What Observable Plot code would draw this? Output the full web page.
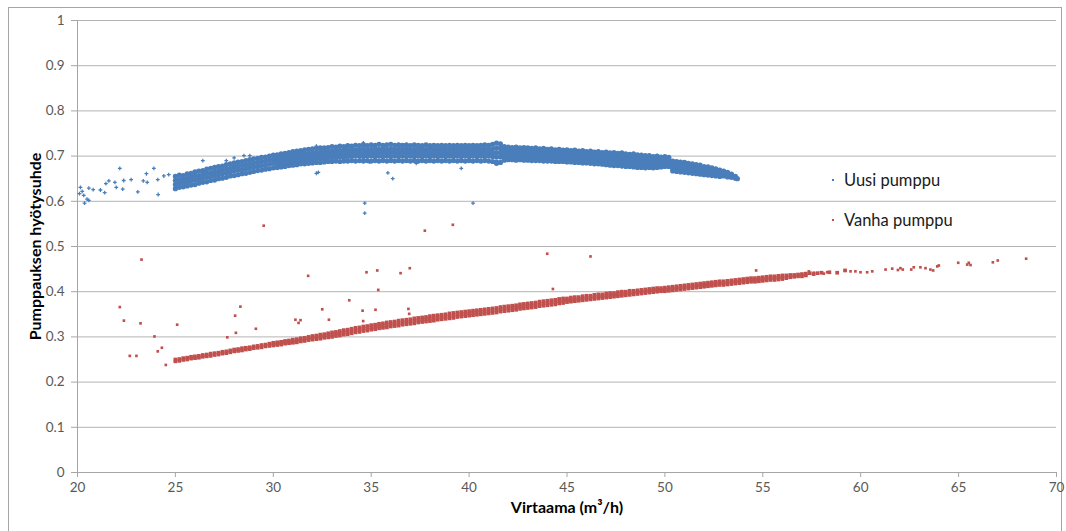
<!DOCTYPE html>
<html>
<head>
<meta charset="utf-8">
<script src="https://cdn.jsdelivr.net/npm/d3@7"></script>
<script src="https://cdn.jsdelivr.net/npm/@observablehq/plot@0.6"></script>
<style>
  html, body { margin: 0; padding: 0; background: #fff; }
  #chart { position: relative; width: 1066px; height: 531px; overflow: hidden; font-family: Lato, "Open Sans", sans-serif; }
  #frame { position: absolute; left: 8px; top: 7px; width: 1054px; height: 540px; border: 1px solid #a6a6a6; box-sizing: border-box; pointer-events: none; }
  #chart svg { position: absolute; left: 0; top: 0; }
  .legend { position: absolute; left: 830px; top: 169px; font-size: 16.5px; color: #1a1a1a; }
  .legend .row { position: relative; height: 40px; line-height: 22px; }
  .legend .mk { position: absolute; left: 2px; top: 10px; width: 2px; height: 2px; }
  .legend .lb { position: absolute; left: 14px; top: 0; white-space: nowrap; }
</style>
</head>
<body>
<div id="chart"><div id="frame"></div></div>
<script>
// Axis ticks
const xTicks = [20, 25, 30, 35, 40, 45, 50, 55, 60, 65, 70];
const yTicks = [0, 0.1, 0.2, 0.3, 0.4, 0.5, 0.6, 0.7, 0.8, 0.9, 1];

const seriesNames = ["Uusi pumppu", "Vanha pumppu"];
const seriesColors = ["#4a7ebb", "#c0504d"];

// Uusi pumppu: dense band, each row = [flow, efficiency readings at that flow...]
const uusiBand = [
  [25.0,.655,.646,.637,.628],[25.2,.658,.648,.640,.631],[25.4,.657,.650,.641,.632],[25.6,.661,.651,.643,.634],
  [25.8,.662,.654,.645,.636],[26.0,.665,.656,.647,.637],[26.2,.667,.657,.649,.640],[26.4,.668,.660,.651,.642],
  [26.6,.671,.662,.653,.643],[26.8,.673,.663,.655,.646],[27.0,.675,.666,.657,.647],[27.2,.677,.667,.659,.650],
  [27.4,.678,.670,.661,.651],[27.6,.681,.672,.663,.653],[27.8,.683,.673,.665,.656],[28.0,.685,.676,.667,.657],
  [28.2,.687,.678,.669,.659],[28.4,.688,.679,.670,.661],[28.6,.690,.681,.672,.662],[28.8,.692,.683,.674,.664],
  [29.0,.694,.685,.676,.666],[29.2,.695,.686,.677,.668],[29.4,.697,.688,.679,.669],[29.6,.698,.689,.680,.671],
  [29.8,.700,.691,.682,.672],[30.0,.702,.693,.684,.674],
  [30.2,.703,.696,.689,.682,.675],[30.4,.705,.697,.690,.683,.676],[30.6,.706,.699,.692,.685,.677],
  [30.8,.708,.700,.693,.686,.679],[31.0,.710,.702,.695,.688,.680],[31.2,.711,.703,.696,.689,.681],
  [31.4,.712,.704,.697,.690,.683],[31.6,.714,.705,.698,.691,.683],[31.8,.715,.706,.699,.692,.684],
  [32.0,.716,.707,.700,.693,.685],[32.2,.717,.708,.701,.694,.686],[32.4,.718,.709,.702,.695,.686],
  [32.6,.718,.710,.702,.695,.687],[32.8,.719,.710,.703,.696,.688],[33.0,.721,.711,.704,.697,.688],
  [33.2,.720,.712,.704,.697,.689],[33.4,.722,.712,.705,.698,.688],[33.6,.721,.713,.705,.698,.689],
  [33.8,.723,.713,.706,.699,.689],[34.0,.722,.714,.706,.699,.690],[34.2,.724,.714,.707,.700,.689],
  [34.4,.723,.715,.707,.700,.690],[34.6,.725,.715,.707,.699,.689],[34.8,.723,.714,.707,.700,.690],
  [35.0,.725,.715,.708,.700,.689],[35.2,.724,.716,.707,.699,.690],[35.4,.726,.715,.708,.700,.689],
  [35.6,.724,.716,.708,.699,.690],[35.8,.725,.715,.707,.700,.689],[36.0,.726,.716,.708,.699,.690],
  [36.2,.724,.715,.707,.700,.689],[36.4,.725,.716,.708,.699,.690],[36.6,.724,.715,.707,.700,.689],
  [36.8,.725,.716,.708,.699,.690],[37.0,.723,.715,.707,.700,.689],[37.2,.725,.715,.708,.699,.690],
  [37.4,.724,.716,.707,.700,.689],[37.6,.723,.715,.707,.699,.690],[37.8,.725,.715,.708,.700,.689],
  [38.0,.723,.716,.707,.699,.690],[38.2,.724,.715,.707,.700,.689],[38.4,.723,.715,.707,.699,.690],
  [38.6,.724,.716,.708,.700,.689],[38.8,.723,.715,.707,.699,.690],[39.0,.724,.715,.707,.700,.689],
  [39.2,.723,.716,.707,.699,.690],[39.4,.724,.715,.707,.700,.689],[39.6,.723,.715,.707,.699,.690],
  [39.8,.724,.716,.707,.700,.689],[40.0,.723,.715,.707,.699,.690],[40.2,.724,.715,.707,.700,.689],
  [40.4,.723,.716,.707,.699,.690],[40.6,.724,.715,.707,.700,.689],[40.8,.725,.716,.707,.699,.690],
  [41.0,.724,.715,.707,.700,.689],[41.2,.726,.716,.707,.699,.688],[41.4,.729,.718,.708,.698,.687,.684],
  [41.6,.727,.717,.707,.698,.686],[41.8,.721,.713,.706,.699,.691],[42.0,.720,.713,.706,.699,.692],
  [42.2,.719,.712,.705,.699,.692],[42.4,.720,.712,.705,.698,.691],[42.6,.718,.711,.705,.698,.692],
  [42.8,.719,.712,.705,.698,.691],[43.0,.718,.711,.704,.697,.691],[43.2,.717,.710,.704,.697,.690],
  [43.4,.718,.710,.704,.697,.690],[43.6,.716,.710,.703,.696,.690],[43.8,.717,.709,.703,.696,.689],
  [44.0,.715,.709,.702,.696,.689],[44.2,.716,.708,.702,.695,.689],[44.4,.714,.708,.702,.695,.688],
  [44.6,.715,.708,.701,.695,.688],[44.8,.713,.707,.701,.694,.688],[45.0,.714,.707,.700,.694,.687],
  [45.2,.712,.706,.700,.693,.687],[45.4,.713,.706,.699,.693,.686],[45.6,.711,.705,.699,.692,.686],
  [45.8,.712,.705,.698,.692,.685],[46.0,.710,.704,.698,.691,.685],[46.2,.711,.704,.697,.690,.684],
  [46.4,.709,.703,.697,.690,.683],[46.6,.710,.702,.696,.689,.683],[46.8,.708,.702,.695,.688,.682],
  [47.0,.709,.701,.694,.688,.681],[47.2,.707,.700,.694,.687,.680],[47.4,.708,.700,.693,.686,.679],
  [47.6,.706,.699,.692,.685,.679],[47.8,.707,.698,.691,.685,.678],[48.0,.705,.698,.691,.684,.677],
  [48.2,.704,.697,.690,.683,.677],[48.4,.705,.697,.690,.683,.676],[48.6,.703,.696,.689,.682,.675],
  [48.8,.702,.695,.688,.682,.675],[49.0,.701,.695,.688,.681,.674],[49.2,.701,.694,.687,.681,.675],
  [49.4,.699,.694,.687,.680,.674],[49.6,.700,.693,.687,.680,.675],[49.8,.698,.693,.687,.681,.676],
  [50.0,.699,.693,.688,.682,.677],[50.2,.697,.692,.687,.681,.677],[50.4,.689,.683,.678,.672,.667],
  [50.6,.688,.682,.677,.671,.666],[50.8,.687,.681,.676,.670,.665],[51.0,.686,.680,.675,.669,.664],
  [51.2,.684,.679,.673,.668,.663],[51.4,.683,.677,.672,.667,.662],[51.6,.681,.676,.671,.666,.661],
  [51.8,.680,.674,.669,.664,.660],[52.0,.677,.672,.668,.663,.659],[52.2,.676,.671,.666,.662,.658],
  [52.4,.674,.669,.665,.661,.657],[52.6,.672,.667,.663,.659,.656],[52.8,.669,.665,.661,.658,.655],
  [53.0,.667,.664,.660,.656],[53.2,.664,.660,.657,.654],[53.4,.660,.657,.653],[53.6,.655,.651],[53.7,.650]
];

// Uusi pumppu: isolated readings [flow, efficiency]
const uusiScatter = [
  [20.15,.631],[20.10,.617],[20.24,.622],[20.32,.613],[20.36,.596],[20.49,.605],[20.58,.602],[20.58,.629],
  [20.80,.626],[21.17,.625],[21.39,.619],[21.45,.639],[21.60,.645],[21.91,.642],[21.98,.631],[22.16,.673],
  [22.31,.627],[22.36,.646],[22.74,.648],[23.08,.621],[23.36,.645],[23.52,.661],[23.56,.642],[23.90,.673],
  [24.10,.648],[24.12,.615],[24.41,.656],[24.66,.659],
  [26.4,.690],[27.6,.690],[28.0,.696],[28.5,.701],[28.8,.701],[32.2,.722],[34.6,.729],
  [32.2,.662],[32.3,.664],[35.85,.663],[36.1,.650],[37.3,.684],[39.6,.673],[34.9,.687],
  [34.67,.596],[34.67,.574],[40.2,.596]
];

// Vanha pumppu: dense band, each row = [flow, efficiency readings at that flow...]
const vanhaBand = [
  [25.0,.250,.246],[25.2,.251,.247],[25.4,.253,.249],[25.6,.254,.250],[25.8,.256,.252],[26.0,.257,.253],
  [26.2,.258,.254],[26.4,.260,.256],[26.6,.261,.257],[26.8,.263,.258],[27.0,.264,.260],[27.2,.265,.261],
  [27.4,.267,.263],[27.6,.268,.264],[27.8,.270,.266],[28.0,.272,.268],[28.2,.273,.269],[28.4,.275,.270],
  [28.6,.276,.272],[28.8,.277,.273],[29.0,.279,.275],[29.2,.280,.276],[29.4,.282,.277],[29.6,.283,.279],
  [29.8,.285,.280],[30.0,.287,.284,.281],[30.2,.288,.285,.282],[30.4,.289,.286,.283],[30.6,.291,.288,.285],
  [30.8,.292,.289,.286],[31.0,.294,.290,.287],[31.2,.295,.292,.288],[31.4,.297,.293,.290],[31.6,.298,.295,.291],
  [31.8,.300,.296,.293],[32.0,.302,.298,.294],[32.2,.303,.299,.295],[32.4,.305,.300,.296],[32.6,.306,.302,.298],
  [32.8,.308,.304,.299],[33.0,.310,.305,.300],[33.2,.311,.307,.302],[33.4,.313,.308,.303],[33.6,.315,.310,.305],
  [33.8,.316,.311,.306],[34.0,.318,.313,.308],[34.2,.320,.315,.310],[34.4,.321,.316,.311],[34.6,.323,.318,.313],
  [34.8,.324,.319,.314],[35.0,.326,.321,.316],[35.2,.327,.322,.317],[35.4,.329,.324,.319],[35.6,.330,.325,.320],
  [35.8,.332,.326,.321],[36.0,.333,.328,.323],[36.2,.334,.329,.324],[36.4,.336,.330,.325],[36.6,.337,.332,.327],
  [36.8,.338,.333,.328],[37.0,.339,.334,.329],[37.2,.341,.335,.330],[37.4,.342,.337,.332],[37.6,.343,.338,.333],
  [37.8,.344,.339,.334],[38.0,.346,.340,.335],[38.2,.347,.341,.336],[38.4,.348,.343,.338],[38.6,.349,.344,.339],
  [38.8,.350,.345,.340],[39.0,.352,.346,.341],[39.2,.353,.347,.342],[39.4,.354,.349,.344],[39.6,.355,.350,.345],
  [39.8,.356,.351,.346],[40.0,.357,.352,.347],[40.2,.358,.353,.348],[40.4,.359,.354,.349],[40.6,.360,.355,.350],
  [40.8,.361,.356,.351],[41.0,.362,.357,.352],[41.2,.363,.358,.353],[41.4,.364,.359,.354],[41.6,.366,.361,.356],
  [41.8,.367,.362,.357],[42.0,.368,.363,.358],[42.2,.369,.364,.359],[42.4,.370,.365,.360],[42.6,.372,.367,.362],
  [42.8,.373,.368,.363],[43.0,.374,.369,.364],[43.2,.375,.370,.365],[43.4,.376,.371,.366],[43.6,.378,.373,.368],
  [43.8,.379,.374,.369],[44.0,.380,.375,.370],[44.2,.381,.376,.371],[44.4,.382,.377,.372],[44.6,.384,.379,.374],
  [44.8,.385,.380,.375],[45.0,.385,.381,.377],[45.2,.387,.382,.378],[45.4,.388,.383,.379],[45.6,.388,.384,.380],
  [45.8,.390,.385,.381],[46.0,.391,.386,.382],[46.2,.391,.387,.383],[46.4,.393,.388,.384],[46.6,.394,.389,.385],
  [46.8,.394,.390,.386],[47.0,.396,.391,.387],[47.2,.397,.392,.388],[47.4,.397,.393,.389],[47.6,.399,.394,.390],
  [47.8,.400,.395,.391],[48.0,.400,.396,.392],[48.2,.402,.397,.393],[48.4,.402,.398,.394],[48.6,.403,.399,.395],
  [48.8,.404,.400,.396],[49.0,.405,.401,.397],[49.2,.406,.402,.398],[49.4,.407,.403,.399],[49.6,.408,.404,.400],
  [49.8,.408,.404,.401],[50.0,.409,.405,.401],[50.2,.410,.406,.402],[50.4,.411,.407,.403],[50.6,.412,.408,.404],
  [50.8,.413,.409,.405],[51.0,.414,.410,.406],[51.2,.415,.411,.407],[51.4,.416,.412,.408],[51.6,.417,.413,.409],
  [51.8,.418,.414,.410],[52.0,.419,.415,.411],[52.2,.420,.416,.412],[52.4,.421,.417,.413],[52.6,.422,.418,.414],
  [52.8,.423,.419,.415],[53.0,.423,.419,.415],[53.2,.424,.420,.416],[53.4,.425,.421,.417],[53.6,.426,.422,.418],
  [53.8,.427,.423,.419],[54.0,.428,.424,.420],[54.2,.429,.425,.421],[54.4,.430,.426,.422],[54.6,.430,.426,.422],
  [54.8,.431,.427,.423],[55.0,.432,.428,.424],[55.2,.433,.429,.425],[55.4,.434,.430,.426],[55.6,.434,.430,.426],
  [55.8,.435,.431,.427],[56.0,.436,.432,.428],[56.2,.436,.430],[56.4,.437,.432],[56.6,.437,.433],
  [56.8,.438,.434],[57.0,.439,.434],[57.2,.440,.436],[57.4,.441],[57.6,.439],[57.8,.441],[58.0,.442],
  [58.4,.443],[58.8,.442],[59.2,.447]
];

// Vanha pumppu: isolated readings and the sparse high-flow tail [flow, efficiency]
const vanhaScatter = [
  [22.16,.366],[22.37,.336],[23.27,.471],[23.22,.330],[22.67,.258],[23.01,.258],[23.93,.301],[24.10,.268],
  [24.31,.276],[24.51,.238],[25.09,.327],[27.65,.299],[28.05,.347],[28.09,.309],[28.32,.367],[29.11,.318],
  [29.51,.546],[31.78,.435],[31.13,.338],[31.29,.331],[31.39,.337],[32.50,.361],[32.84,.338],[33.88,.381],
  [34.56,.358],[34.59,.335],[34.76,.443],[35.31,.447],[35.36,.404],[35.22,.360],[36.50,.441],[36.97,.452],
  [36.90,.362],[36.94,.351],[37.74,.535],[39.17,.548],[43.99,.484],[44.28,.406],[46.20,.478],[54.66,.447],
  [57.35,.445],[57.61,.442],[58.12,.440],[58.29,.443],[58.80,.442],[59.22,.447],[59.48,.445],[59.73,.445],
  [59.99,.443],[60.33,.443],[60.59,.445],[61.27,.449],[61.61,.451],[61.90,.448],[62.03,.452],[62.15,.449],
  [62.58,.449],[62.71,.454],[63.05,.454],[63.31,.452],[63.56,.449],[63.70,.447],[63.91,.456],[63.99,.458],
  [64.98,.464],[65.44,.460],[65.52,.464],[65.61,.459],[66.75,.465],[67.00,.469],[68.45,.473]
];

const xTitle = "Virtaama (m³/h)";
const yTitle = "Pumppauksen hyötysuhde";

// Flatten band rows into individual points
const toPoints = rows => rows.flatMap(([x, ...ys]) => ys.map(y => ({x, y})));
const toPairs = rows => rows.map(([x, y]) => ({x, y}));

const uusiPts = toPoints(uusiBand);
const uusiOut = toPairs(uusiScatter);
const vanhaPts = toPoints(vanhaBand);
const vanhaOut = toPairs(vanhaScatter);

const gridColor = "#b4b4b4";
const axisColor = "#a6a6a6";

const chart = Plot.plot({
  width: 1066,
  height: 531,
  marginLeft: 77,
  marginRight: 10,
  marginTop: 20,
  marginBottom: 59,
  style: {fontFamily: "Lato, 'Open Sans', sans-serif", fontSize: "13.5px", background: "transparent", overflow: "visible"},
  x: {domain: [20, 70], label: null},
  y: {domain: [0, 1], label: null},
  marks: [
    Plot.gridY({ticks: yTicks, stroke: gridColor, strokeOpacity: 1}),
    Plot.ruleX([20], {stroke: axisColor}),
    Plot.ruleY([0], {stroke: axisColor}),
    Plot.axisY({ticks: yTicks, tickSize: 6, tickPadding: 7, stroke: axisColor, fill: "#595959",
      tickFormat: d => String(d), label: null}),
    Plot.axisX({ticks: xTicks, tickSize: 5, tickPadding: 5, stroke: axisColor, fill: "#595959",
      tickFormat: d => String(d), label: null}),
    // dense band cores are drawn with round markers so they read as a solid cloud
    Plot.dot(uusiPts, {x: "x", y: "y", symbol: "circle", r: 2.6, fill: seriesColors[0], stroke: "none"}),
    Plot.dot(uusiOut, {x: "x", y: "y", symbol: "cross", r: 1.6, fill: seriesColors[0], stroke: "none"}),
    Plot.dot(vanhaPts, {x: "x", y: "y", symbol: "square", r: 2.1, fill: seriesColors[1], stroke: "none"}),
    Plot.dot(vanhaOut, {x: "x", y: "y", symbol: "square", r: 1.5, fill: seriesColors[1], stroke: "none"}),
    Plot.text([xTitle], {frameAnchor: "bottom", dy: 40, fontWeight: "bold", fontSize: 16, fill: "#000"}),
    Plot.text([yTitle], {frameAnchor: "left", textAnchor: "middle", dx: -42, rotate: -90, fontWeight: "bold", fontSize: 16, fill: "#000"})
  ]
});

const root = document.getElementById("chart");
root.appendChild(chart);

// Legend
const legend = document.createElement("div");
legend.className = "legend";
seriesNames.forEach((name, i) => {
  const row = document.createElement("div");
  row.className = "row";
  const mk = document.createElement("span");
  mk.className = "mk";
  mk.style.background = seriesColors[i];
  const lb = document.createElement("span");
  lb.className = "lb";
  lb.textContent = name;
  row.appendChild(mk);
  row.appendChild(lb);
  legend.appendChild(row);
});
root.appendChild(legend);
</script>
</body>
</html>
